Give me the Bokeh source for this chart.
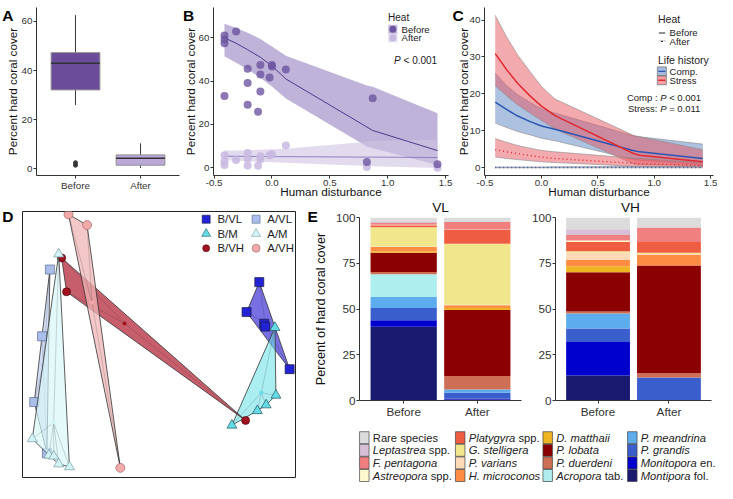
from bokeh.plotting import figure
from bokeh.layouts import row, column
from bokeh.models import Range1d, FixedTicker, GridBox
from bokeh.embed import file_html
from bokeh.resources import INLINE
from bokeh.core.properties import value

FONT = "Liberation Sans"
INK = "#222222"

# ---------------- Panel A: hard coral cover before / after heat ----------------
heat_levels = ["Before", "After"]
a_q1 = [32.1, 1.4]
a_median = [43.0, 4.2]
a_q3 = [47.3, 5.6]
a_whisk_lo = [25.9, 0.3]
a_whisk_hi = [62.6, 10.3]
a_outlier_group = ["Before", "Before"]
a_outlier_val = [1.4, 2.4]

# ---------------- Panel B: cover vs human disturbance ----------------
b_before_x = [-0.41, -0.41, -0.41, -0.41, -0.31, -0.21, -0.21, -0.21, -0.10, -0.10, -0.10, -0.12,
              0.00, 0.00, -0.02, 0.12, 0.87, 0.82, 1.43]
b_before_y = [61.1, 59.2, 57.5, 33.1, 62.9, 45.7, 39.1, 29.1, 47.4, 43.1, 35.2, 25.9,
              46.7, 47.4, 41.7, 45.4, 32.1, 2.6, 1.6]
b_after_x = [-0.41, -0.41, -0.41, -0.31, -0.21, -0.21, -0.21, -0.10, -0.10, -0.12, -0.02, 0.00, 0.12, 0.82, 1.43]
b_after_y = [5.8, 3.0, 1.2, 3.6, 6.8, 4.3, 1.0, 5.3, 3.9, 0.9, 5.8, 6.2, 10.3, 0.3, 0.0]
b_fit_x = [-0.41, -0.31, -0.21, -0.10, 0.00, 0.12, 0.82, 0.87, 1.43]
b_before_fit = [60.0, 57.5, 54.5, 51.0, 47.0, 41.0, 18.8, 17.2, 7.9]
b_before_hi = [66.5, 64.5, 62.3, 59.5, 56.0, 51.7, 38.0, 37.4, 25.2]
b_before_lo = [51.5, 48.5, 45.5, 41.5, 37.5, 32.0, 9.8, 9.0, 1.2]
b_after_fit = [5.3, 5.3, 5.2, 5.2, 5.1, 5.1, 4.9, 4.9, 4.7]
b_after_hi = [7.9, 8.0, 8.1, 8.3, 8.5, 8.8, 12.0, 12.3, 13.0]
b_after_lo = [3.4, 3.2, 3.0, 2.7, 2.5, 2.3, 0.8, 0.7, -0.1]

# ---------------- Panel C: life history groups ----------------
c_fit_x = [-0.41, -0.31, -0.21, -0.10, 0.00, 0.12, 0.82, 0.87, 1.43]
c_stress_before = [30.9, 26.6, 22.8, 19.4, 16.7, 14.1, 3.8, 3.4, 1.6]
c_stress_before_hi = [41.3, 35.5, 30.5, 26.0, 22.0, 18.6, 8.7, 8.4, 4.9]
c_stress_before_lo = [22.2, 19.5, 17.0, 14.8, 12.8, 10.5, 1.0, 0.9, 0.6]
c_comp_before = [17.8, 15.8, 14.0, 12.5, 11.3, 10.4, 4.6, 4.3, 2.5]
c_comp_before_hi = [25.6, 22.3, 19.8, 17.7, 16.0, 14.8, 8.6, 8.4, 6.4]
c_comp_before_lo = [12.1, 10.9, 9.8, 8.9, 8.0, 7.3, 2.2, 2.0, 0.9]
c_stress_after = [4.9, 4.3, 3.8, 3.3, 2.9, 2.5, 1.2, 1.1, 0.6]
c_stress_after_hi = [7.9, 6.9, 6.0, 5.3, 4.7, 4.3, 2.6, 2.5, 1.4]
c_stress_after_lo = [2.9, 2.5, 2.2, 1.9, 1.6, 1.4, 0.4, 0.4, 0.2]
c_comp_after = [0.05, 0.05, 0.05, 0.05, 0.05, 0.05, 0.1, 0.1, 0.1]
c_comp_after_hi = [0.2, 0.2, 0.2, 0.2, 0.2, 0.25, 0.35, 0.35, 0.4]
c_comp_after_lo = [0.0, 0.0, 0.0, 0.0, 0.0, 0.0, 0.0, 0.0, 0.0]

dist_ticks = [-0.5, 0.0, 0.5, 1.0, 1.5]
dist_tick_labels = ["-0.5", "0.0", "0.5", "1.0", "1.5"]

# ---------------- Panel D: ordination (NMDS) ----------------
d_groups = ["B/VL", "B/M", "B/VH", "A/VL", "A/M", "A/VH"]
d_bvl_x = [1.05, 0.92, 1.10, 1.11, 1.36]
d_bvl_y = [0.64, 0.33, 0.21, 0.18, -0.26]
d_bm_x = [1.21, 1.22, 1.12, 1.03, 0.77]
d_bm_y = [0.17, -0.53, -0.63, -0.69, -0.84]
d_bvh_x = [-0.97, -0.92, 0.91]
d_bvh_y = [0.89, 0.54, -0.79]
d_avl_x = [-1.09, -1.17, -1.25, -1.12]
d_avl_y = [0.77, 0.08, -0.60, -1.13]
d_am_x = [-1.00, -1.27, -1.10, -1.05, -1.00, -0.89]
d_am_y = [0.93, -0.98, -1.15, -1.16, -1.24, -1.27]
d_avh_x = [-0.90, -0.71, -0.37]
d_avh_y = [1.34, 1.23, -1.28]

# ---------------- Panel E: composition (percent of hard coral cover) ----------------
species = ["Rare species", "Leptastrea spp.", "F. pentagona", "Astreopora spp.",
           "Platygyra spp.", "G. stelligera", "P. varians", "H. microconos",
           "D. matthaii", "P. lobata", "P. duerdeni", "Acropora tab.",
           "P. meandrina", "P. grandis", "Monitopora en.", "Montipora fol."]
vl_before = [2.5, 0.5, 1.0, 0.3, 1.0, 10.5, 0.3, 2.3, 0.8, 10.6, 1.2, 12.4, 6.1, 6.7, 3.5, 40.3]
vl_after = [2.5, 0.0, 4.0, 0.2, 7.6, 33.4, 0.3, 1.4, 1.2, 36.0, 7.4, 0.0, 1.8, 3.2, 0.5, 0.5]
vh_before = [6.4, 3.1, 3.0, 0.9, 5.0, 0.9, 3.9, 3.5, 3.2, 21.4, 1.1, 0.0, 8.3, 7.3, 18.4, 13.6]
vh_after = [5.5, 0.0, 7.9, 0.0, 5.9, 0.7, 0.5, 5.7, 0.0, 58.9, 2.3, 0.0, 0.0, 12.6, 0.0, 0.0]
pct_ticks = [0, 25, 50, 75, 100]
sites = ["VL", "VH"]
panel_letters = ["A", "B", "C", "D", "E"]

# ---------------- styles ----------------
SPECIES_COLORS = ["#dcdcdc", "#d8bfd8", "#f08080", "#fffacd", "#ee5c42", "#f0e68c", "#ffdab9", "#ff8c42",
                  "#eeb422", "#8b0000", "#cd6e55", "#aeeeee", "#5cacee", "#3a5fcd", "#0000cd", "#191970"]
SPECIES_PIECES = [
    [("Rare species", "normal")], [("Leptastrea", "italic"), (" spp.", "normal")],
    [("F. pentagona", "italic")], [("Astreopora", "italic"), (" spp.", "normal")],
    [("Platygyra", "italic"), (" spp.", "normal")], [("G. stelligera", "italic")],
    [("P. varians", "italic")], [("H. microconos", "italic")],
    [("D. matthaii", "italic")], [("P. lobata", "italic")],
    [("P. duerdeni", "italic")], [("Acropora", "italic"), (" tab.", "normal")],
    [("P. meandrina", "italic")], [("P. grandis", "italic")],
    [("Monitopora", "italic"), (" en.", "normal")], [("Montipora", "italic"), (" fol.", "normal")],
]
D_STYLE = {
    "B/VL": dict(marker="square", size=9, fill="#2323d6", line="#1a1a40", poly="#4b3fd8", palpha=0.75),
    "B/M": dict(marker="triangle", size=10, fill="#62dde8", line="#2b5560", poly="#72e2ea", palpha=0.6),
    "B/VH": dict(marker="circle", size=8, fill="#a3101f", line="#4a0a10", poly="#b4283a", palpha=0.75),
    "A/VL": dict(marker="square", size=9, fill="#a9bfe9", line="#5a6a90", poly="#c0d0f0", palpha=0.7),
    "A/M": dict(marker="triangle", size=10, fill="#d2f4f7", line="#7a9aa0", poly="#d5f6f8", palpha=0.65),
    "A/VH": dict(marker="circle", size=9, fill="#f2a9a9", line="#a06a6a", poly="#f0b5b5", palpha=0.75),
}

AW = {" ": 278, ".": 278, ",": 278, ":": 278, "/": 278, "<": 584, "=": 584, "-": 333,
      "A": 667, "B": 667, "C": 722, "D": 722, "E": 667, "F": 611, "G": 778, "H": 722, "I": 278,
      "L": 556, "M": 833, "P": 667, "R": 722, "S": 667, "V": 667,
      "a": 556, "b": 556, "c": 500, "d": 556, "e": 556, "f": 278, "g": 556, "h": 556, "i": 222,
      "j": 222, "k": 500, "l": 222, "m": 833, "n": 556, "o": 556, "p": 556, "q": 556, "r": 333,
      "s": 500, "t": 278, "u": 556, "v": 500, "w": 722, "x": 500, "y": 500, "z": 500}


def text_w(s, size):
    return sum(AW.get(ch, 556) for ch in s) / 1000.0 * size


def rich(p, x, y, pieces, size, align="left", color=INK):
    total = sum(text_w(t, size) for t, _ in pieces)
    off = 0.0 if align == "left" else -total
    for t, style in pieces:
        lead = len(t) - len(t.lstrip(" "))
        body = t.strip(" ")
        if body:
            p.text(x=[x], y=[y], text=[body], x_offset=off + text_w(" " * lead, size),
                   text_font=value(FONT), text_font_size=f"{size}px", text_font_style=style,
                   text_align="left", text_baseline="middle", text_color=color)
        off += text_w(t, size)


def mkfig(w, h, xr, yr, mbl, mbr, mbt, mbb, axes=True):
    kw = dict(width=w, height=h, x_range=xr, y_range=yr, output_backend="svg",
              toolbar_location=None, min_border_left=mbl, min_border_right=mbr,
              min_border_top=mbt, min_border_bottom=mbb)
    if not axes:
        kw.update(x_axis_type=None, y_axis_type=None)
    p = figure(**kw)
    p.grid.visible = False
    p.outline_line_color = None
    p.border_fill_color = "white"
    return p


def style_axes(p, tick_px, title_px, xstand=-4, ystand=0):
    for ax in list(p.xaxis) + list(p.yaxis):
        ax.axis_line_color = "#333333"
        ax.axis_line_width = 1
        ax.major_tick_line_color = "#333333"
        ax.minor_tick_line_color = None
        ax.major_tick_out = 3
        ax.major_tick_in = 0
        ax.major_label_standoff = 1
        ax.major_label_text_font = FONT
        ax.major_label_text_font_size = f"{tick_px}px"
        ax.major_label_text_color = "#333333"
        ax.axis_label_text_font = FONT
        ax.axis_label_text_font_size = f"{title_px}px"
        ax.axis_label_text_font_style = "normal"
        ax.axis_label_text_color = "#111111"
    for ax in p.xaxis:
        ax.axis_label_standoff = xstand
    for ax in p.yaxis:
        ax.axis_label_standoff = ystand


# ================= Panel A =================
xa = [1, 2]
pa = mkfig(180, 202, Range1d(0.4, 2.6), Range1d(-2.8, 65.7), 36, 1, 7, 25)
pa.segment(x0=xa, y0=a_whisk_lo, x1=xa, y1=a_q1, line_color="#3a3a3a", line_width=1)
pa.segment(x0=xa, y0=a_q3, x1=xa, y1=a_whisk_hi, line_color="#3a3a3a", line_width=1)
pa.vbar(x=xa, width=0.75, bottom=a_q1, top=a_q3, fill_color=["#6b4c9a", "#bba9d9"],
        line_color="#8f8f8f", line_width=1)
pa.segment(x0=[x - 0.375 for x in xa], y0=a_median, x1=[x + 0.375 for x in xa], y1=a_median,
           line_color="#333333", line_width=1.5)
pa.scatter(x=[xa[heat_levels.index(g)] for g in a_outlier_group], y=a_outlier_val, size=4, color="#333333")
pa.xaxis.ticker = FixedTicker(ticks=xa)
pa.xaxis.major_label_overrides = {x: lab for x, lab in zip(xa, heat_levels)}
pa.yaxis.ticker = FixedTicker(ticks=[0, 20, 40, 60])
pa.yaxis.axis_label = "Percent hard coral cover"
style_axes(pa, 9.8, 11.7, ystand=0)

# ================= Panel B =================
pb = mkfig(273, 202, Range1d(-0.505, 1.525), Range1d(-3.6, 74), 28, 5, 5, 23)
pb.varea(x=b_fit_x, y1=b_before_lo, y2=b_before_hi, fill_color="#9d8bc4", fill_alpha=0.65)
pb.varea(x=b_fit_x, y1=b_after_lo, y2=b_after_hi, fill_color="#cfc3e3", fill_alpha=0.6)
pb.line(b_fit_x, b_before_fit, line_color="#4b3a8c", line_width=1)
pb.line(b_fit_x, b_after_fit, line_color="#8f7fc0", line_width=1)
pb.scatter(b_after_x, b_after_y, size=8, fill_color="#c8b9e0", line_color=None, fill_alpha=0.85)
pb.scatter(b_before_x, b_before_y, size=8, fill_color="#6e55a0", line_color=None, fill_alpha=0.8)
pb.xaxis.ticker = FixedTicker(ticks=dist_ticks)
pb.xaxis.major_label_overrides = {t: s for t, s in zip(dist_ticks, dist_tick_labels)}
pb.yaxis.ticker = FixedTicker(ticks=[0, 20, 40, 60])
pb.xaxis.axis_label = "Human disturbance"
pb.yaxis.axis_label = "Percent hard coral cover"
style_axes(pb, 9.8, 11.7, ystand=-1)
pb.text(x=[1.003], y=[69.6], text=["Heat"], text_font=value(FONT), text_font_size="10px",
        text_baseline="middle", text_color=INK)
pb.scatter([1.044, 1.044], [63.9, 60.0], marker="square", size=9, fill_color=["#9d8bc4", "#cfc3e3"],
           fill_alpha=0.6, line_color=None)
pb.scatter([1.044, 1.044], [63.9, 60.0], size=7, fill_color=["#6e55a0", "#c8b9e0"], line_color=None)
pb.text(x=[1.12, 1.12], y=[63.9, 60.0], text=heat_levels, text_font=value(FONT), text_font_size="9.5px",
        text_baseline="middle", text_color=INK)
rich(pb, 1.055, 49.5, [("P", "italic"), (" < 0.001", "normal")], 10)

# ================= Panel C =================
pc = mkfig(264, 202, Range1d(-0.505, 1.525), Range1d(-2.1, 43.4), 25, 4, 5, 27)
BLUE, RED = "#2c55b0", "#df2a30"
BLUE_F, RED_F = "#5b83c3", "#e7555f"
for lo, hi, fc in [(c_comp_before_lo, c_comp_before_hi, BLUE_F), (c_stress_before_lo, c_stress_before_hi, RED_F),
                   (c_comp_after_lo, c_comp_after_hi, BLUE_F), (c_stress_after_lo, c_stress_after_hi, RED_F)]:
    pc.varea(x=c_fit_x, y1=lo, y2=hi, fill_color=fc, fill_alpha=0.5)
    pc.line(c_fit_x, lo, line_color="#8a8a8a", line_width=0.6)
    pc.line(c_fit_x, hi, line_color="#8a8a8a", line_width=0.6)
pc.line(c_fit_x, c_comp_before, line_color=BLUE, line_width=1.5)
pc.line(c_fit_x, c_stress_before, line_color=RED, line_width=1.5)
pc.line(c_fit_x, c_comp_after, line_color=BLUE, line_width=1.5, line_dash="1 3")
pc.line(c_fit_x, c_stress_after, line_color=RED, line_width=1.5, line_dash="1 3")
pc.xaxis.ticker = FixedTicker(ticks=dist_ticks)
pc.xaxis.major_label_overrides = {t: s for t, s in zip(dist_ticks, dist_tick_labels)}
pc.yaxis.ticker = FixedTicker(ticks=[0, 10, 20, 30, 40])
pc.xaxis.axis_label = "Human disturbance"
pc.yaxis.axis_label = "Percent hard coral cover"
style_axes(pc, 9.8, 11.7, ystand=-3)
pc.text(x=[1.033, 1.033], y=[40.3, 29.2], text=["Heat", "Life history"], text_font=value(FONT),
        text_font_size="10.5px", text_baseline="middle", text_color=INK)
pc.segment(x0=[1.041, 1.041], y0=[36.5, 34.2], x1=[1.097, 1.097], y1=[36.5, 34.2], line_color="#222222",
           line_width=1.2)
pc.segment(x0=[1.041], y0=[34.2], x1=[1.097], y1=[34.2], line_color="white", line_width=1.6, line_dash="2 2")
pc.scatter([1.067, 1.067], [26.1, 23.7], marker="square", size=9, fill_color=[BLUE_F, RED_F],
           fill_alpha=0.55, line_color="#777777", line_width=0.8)
pc.segment(x0=[1.035, 1.035], y0=[26.1, 23.7], x1=[1.099, 1.099], y1=[26.1, 23.7], line_color=[BLUE, RED],
           line_width=1.3)
pc.text(x=[1.136] * 4, y=[36.5, 34.2, 26.1, 23.7], text=heat_levels + ["Comp.", "Stress"],
        text_font=value(FONT), text_font_size="9.5px", text_baseline="middle", text_color=INK)
rich(pc, 1.415, 19.1, [("Comp : ", "normal"), ("P", "italic"), (" < 0.001", "normal")], 9.5, align="right")
rich(pc, 1.415, 16.1, [("Stress: ", "normal"), ("P", "italic"), (" = 0.011", "normal")], 9.5, align="right")


# ================= Panel D =================
def hull(xs, ys):
    pts = sorted(set(zip(xs, ys)))
    if len(pts) < 3:
        return pts

    def cross(o, a, b):
        return (a[0] - o[0]) * (b[1] - o[1]) - (a[1] - o[1]) * (b[0] - o[0])
    lower, upper = [], []
    for pt in pts:
        while len(lower) >= 2 and cross(lower[-2], lower[-1], pt) <= 0:
            lower.pop()
        lower.append(pt)
    for pt in reversed(pts):
        while len(upper) >= 2 and cross(upper[-2], upper[-1], pt) <= 0:
            upper.pop()
        upper.append(pt)
    return lower[:-1] + upper[:-1]


pd = mkfig(305, 281, Range1d(-1.37, 1.42), Range1d(-1.38, 1.37), 22, 10, 9, 6, axes=False)
pd.outline_line_color = "#222222"
pd.outline_line_width = 1
d_data = {"B/VL": (d_bvl_x, d_bvl_y), "B/M": (d_bm_x, d_bm_y), "B/VH": (d_bvh_x, d_bvh_y),
          "A/VL": (d_avl_x, d_avl_y), "A/M": (d_am_x, d_am_y), "A/VH": (d_avh_x, d_avh_y)}
for g in d_groups:
    xs, ys = d_data[g]
    st = D_STYLE[g]
    h = hull(xs, ys)
    cx, cy = sum(xs) / len(xs), sum(ys) / len(ys)
    pd.patch([q[0] for q in h], [q[1] for q in h], fill_color=st["poly"], fill_alpha=st["palpha"],
             line_color="#333333", line_width=0.8)
    pd.segment(x0=[cx] * len(xs), y0=[cy] * len(xs), x1=xs, y1=ys, line_color="#222222",
               line_alpha=0.3, line_width=0.6)
    pd.scatter([cx], [cy], size=4, fill_color=st["fill"], line_color=None)
    pd.scatter(xs, ys, marker=st["marker"], size=st["size"], fill_color=st["fill"],
               line_color=st["line"], line_width=0.7)
leg_x = [0.507, 0.507, 0.507, 1.017, 1.017, 1.017]
leg_y = [1.29, 1.14, 0.99, 1.29, 1.14, 0.99]
for g, lx, ly in zip(d_groups, leg_x, leg_y):
    st = D_STYLE[g]
    pd.scatter([lx], [ly], marker=st["marker"], size=st["size"] - 1, fill_color=st["fill"],
               line_color=st["line"], line_width=0.6)
    pd.text(x=[lx + 0.115], y=[ly], text=[g], text_font=value(FONT), text_font_size="11.4px",
            text_baseline="middle", text_color=INK)

# ================= Panel E =================
stack_keys = [f"s{i}" for i in range(len(species))][::-1]   # bottom to top
stack_colors = SPECIES_COLORS[::-1]


def comp_fig(w, mbl, mbr, before, after, ylab):
    p = mkfig(w, 218, Range1d(0.4, 2.6), Range1d(0, 100), mbl, mbr, 15, 20)
    src = {"x": xa}
    for i in range(len(species)):
        src[f"s{i}"] = [before[i], after[i]]
    p.vbar_stack(stack_keys, x="x", width=0.9, color=stack_colors, line_color=None, source=src)
    p.xaxis.ticker = FixedTicker(ticks=xa)
    p.xaxis.major_label_overrides = {x: lab for x, lab in zip(xa, heat_levels)}
    p.yaxis.ticker = FixedTicker(ticks=pct_ticks)
    if ylab:
        p.yaxis.axis_label = ylab
    style_axes(p, 11.7, 12.7, ystand=5)
    return p


pvl = comp_fig(223, 54, 7, vl_before, vl_after, "Percent of hard coral cover")
pvh = comp_fig(189, 21, 6, vh_before, vh_after, None)

# legend for E
pleg = mkfig(412, 63, Range1d(0, 412), Range1d(63, 0), 0, 0, 0, 0, axes=False)
col_x = [58.8, 154.7, 242.2, 326.8]
row_y = [17.2, 29.8, 42.4, 55.0]
for i, pieces in enumerate(SPECIES_PIECES):
    cxp, ryp = col_x[i // 4], row_y[i % 4]
    pleg.rect(x=[cxp], y=[ryp], width=9.5, height=12, fill_color=SPECIES_COLORS[i],
              line_color="#444444", line_width=0.7)
    rich(pleg, cxp + 8.5, ryp, pieces, 11.2)

main = column(row(pa, pb, pc), row(pd, column(row(pvl, pvh), pleg)))

# ---- transparent overlay (page-pixel coordinates) for panel letters and facet titles ----
ov = figure(width=717, height=483, x_range=Range1d(0, 717), y_range=Range1d(483, 0),
            x_axis_type=None, y_axis_type=None, output_backend="svg", toolbar_location=None,
            min_border_left=0, min_border_right=0, min_border_top=0, min_border_bottom=0)
ov.grid.visible = False
ov.outline_line_color = None
ov.background_fill_alpha = 0
ov.border_fill_alpha = 0
letter_x = [1.7, 182.6, 452.0, 1.7, 307.0]
letter_y = [14.5, 14.5, 14.5, 215.5, 215.5]
ov.text(x=letter_x, y=letter_y, text=panel_letters, text_font=value(FONT), text_font_size="15.5px",
        text_font_style="bold", text_color="black", text_baseline="alphabetic", text_align="left")
ov.text(x=[440.0, 630.0], y=[206.5, 206.5], text=sites, text_font=value(FONT), text_font_size="13.7px",
        text_color="#111111", text_baseline="middle", text_align="center")

grid = GridBox(children=[(main, 0, 0), (ov, 0, 0)])
open("out.html", "w").write(file_html(grid, INLINE))
